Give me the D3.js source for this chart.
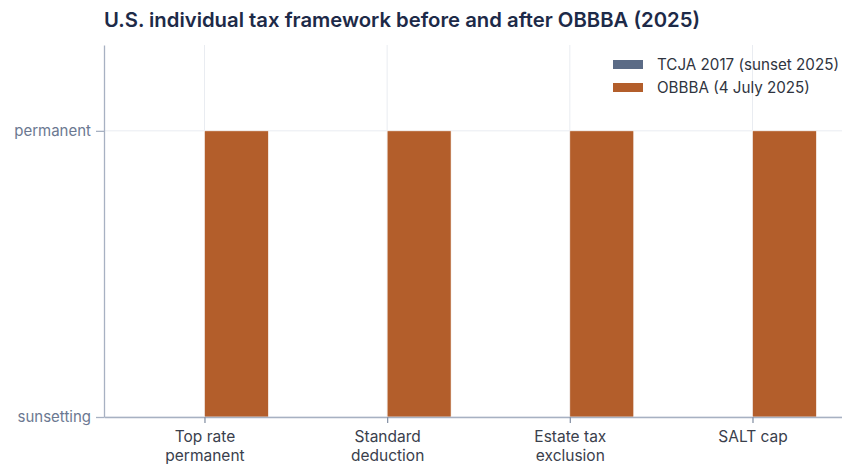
<!DOCTYPE html>
<html lang="en">
<head>
  <meta charset="UTF-8" />
  <title>U.S. individual tax framework</title>
  <script src="https://d3js.org/d3.v7.min.js"></script>
  <style>
    body { margin: 0; background: #fff; font-family: Inter, "Open Sans", sans-serif; }
    .tick text { font-family: Inter, "Open Sans", sans-serif; }
  </style>
</head>
<body>
  <div id="chart"></div>
  <script>
    const categories = [['Top rate', 'permanent'], ['Standard', 'deduction'], ['Estate tax', 'exclusion'], ['SALT cap']];
    const seriesNames = ['TCJA 2017 (sunset 2025)', 'OBBBA (4 July 2025)'];
    const tcjaValues = [0, 0, 0, 0];
    const obbbaValues = [1, 1, 1, 1];
    const yTickLabels = ['sunsetting', 'permanent'];
    const colors = ['#5b6b86', '#b35e2b'];

    const W = 842, H = 464;
    const svg = d3.select('#chart').append('svg').attr('width', W).attr('height', H);

    const x = d3.scaleLinear().domain([-0.55, 3.49]).range([104, 842]);
    const y = d3.scaleLinear().domain([0, 1.3]).range([417, 45]);
    const barW = 0.35;

    // gridlines
    svg.append('g').selectAll('line.vg')
      .data(categories.map((d, i) => i))
      .join('line')
      .attr('x1', d => x(d)).attr('x2', d => x(d))
      .attr('y1', y(1.3)).attr('y2', y(0))
      .attr('stroke', '#e9ecf1').attr('stroke-width', 1);
    svg.append('g').selectAll('line.hg')
      .data([0, 1])
      .join('line')
      .attr('x1', x(-0.55)).attr('x2', x(3.49))
      .attr('y1', d => y(d)).attr('y2', d => y(d))
      .attr('stroke', '#e9ecf1').attr('stroke-width', 1);

    // bars
    const series = [tcjaValues, obbbaValues];
    series.forEach((vals, s) => {
      svg.append('g').selectAll('rect')
        .data(vals)
        .join('rect')
        .attr('x', (d, i) => x(i - barW + s * barW))
        .attr('width', x(barW) - x(0))
        .attr('y', d => y(d))
        .attr('height', d => y(0) - y(d))
        .attr('fill', colors[s])
        .attr('stroke', '#fff').attr('stroke-width', 0.6);
    });

    // axes
    const yAxis = svg.append('g')
      .attr('transform', `translate(${x(-0.55)},0)`)
      .call(d3.axisLeft(y).tickValues([0, 1]).tickFormat(d => yTickLabels[d]).tickSize(8).tickSizeOuter(0).tickPadding(5));
    yAxis.select('.domain').attr('stroke', '#a7b1c2').attr('stroke-width', 1.3);
    yAxis.selectAll('.tick line').attr('stroke', '#a7b1c2').attr('stroke-width', 1.3);
    yAxis.selectAll('.tick text').attr('fill', '#6b7891').attr('font-size', 15);

    const xAxis = svg.append('g')
      .attr('transform', `translate(0,${y(0)})`)
      .call(d3.axisBottom(x).tickValues([0, 1, 2, 3]).tickFormat('').tickSize(6).tickSizeOuter(0));
    xAxis.select('.domain').attr('stroke', '#a7b1c2').attr('stroke-width', 1.3);
    xAxis.selectAll('.tick line').attr('stroke', '#8995a8').attr('stroke-width', 1.3);
    xAxis.selectAll('.tick').each(function (d) {
      const t = d3.select(this).append('text')
        .attr('fill', '#3a404c').attr('font-size', 15.5).attr('text-anchor', 'middle');
      categories[d].forEach((line, k) => {
        t.append('tspan').attr('x', 0).attr('y', 25 + k * 19).text(line);
      });
    });

    // title
    svg.append('text')
      .attr('x', 104).attr('y', 27)
      .attr('fill', '#1d2a48').attr('font-size', 20.3).attr('font-weight', 600)
      .text('U.S. individual tax framework before and after OBBBA (2025)');

    // legend
    const legend = svg.append('g').attr('transform', 'translate(613,60)');
    seriesNames.forEach((name, i) => {
      legend.append('rect').attr('x', 0).attr('y', i * 23).attr('width', 30).attr('height', 9).attr('fill', colors[i]);
      legend.append('text').attr('x', 44).attr('y', i * 23 + 10).attr('font-size', 15.2)
        .attr('fill', '#2f3440').text(name);
    });
  </script>
</body>
</html>
